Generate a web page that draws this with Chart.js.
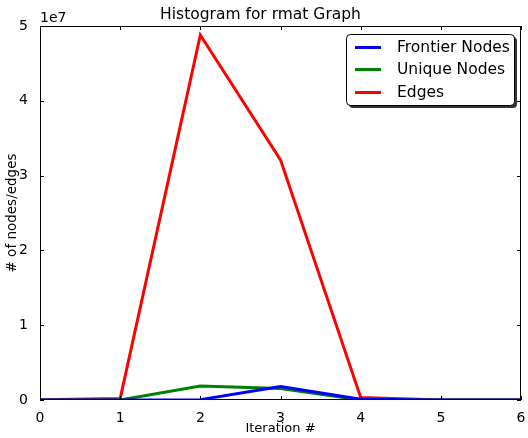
<!DOCTYPE html>
<html>
<head>
<meta charset="utf-8">
<script src="https://cdn.jsdelivr.net/npm/chart.js@4"></script>
<style>
  html, body { margin: 0; padding: 0; background: #fff; }
  #wrap { width: 528px; height: 438px; }
</style>
</head>
<body>
<div id="wrap"><canvas id="chart" width="528" height="438"></canvas></div>
<script>
'use strict';

// per-iteration counts for the rmat graph traversal
let iterations = [0, 1, 2, 3, 4, 5, 6];
let frontierNodes = [0, 0, 50000, 1800000, 100000, 0, 0];
let uniqueNodes = [0, 0, 1870000, 1550000, 0, 0, 0];
let edges = [50000, 200000, 48800000, 32100000, 350000, 0, 0];
let yTicks = [0, 1, 2, 3, 4, 5];
let yExponent = 7;

let canvasElem = document.getElementById('chart');
const FONT = 'DejaVu Sans';

function toPoints(values) {
    return iterations.map((x, i) => ({ x: x, y: values[i] }));
}

// matplotlib style: box around the plot with ticks pointing inward on all sides
const frameTicks = {
    id: 'frameTicks',
    afterDatasetsDraw(chart) {
        const { ctx, chartArea: a, scales } = chart;
        ctx.save();
        ctx.strokeStyle = '#000';
        ctx.lineWidth = 1;
        ctx.strokeRect(a.left + 0.5, a.top + 0.5, a.right - a.left - 1, a.bottom - a.top - 1);
        ctx.beginPath();
        for (const t of scales.x.ticks) {
            const px = Math.round(scales.x.getPixelForValue(t.value)) + 0.5;
            ctx.moveTo(px, a.bottom); ctx.lineTo(px, a.bottom - 4);
            ctx.moveTo(px, a.top); ctx.lineTo(px, a.top + 4);
        }
        for (const t of scales.y.ticks) {
            const py = Math.round(scales.y.getPixelForValue(t.value)) + 0.5;
            ctx.moveTo(a.left, py); ctx.lineTo(a.left + 4, py);
            ctx.moveTo(a.right, py); ctx.lineTo(a.right - 4, py);
        }
        ctx.stroke();
        // offset text for the y axis
        ctx.fillStyle = '#000';
        ctx.font = '14px "' + FONT + '"';
        ctx.textAlign = 'left';
        ctx.textBaseline = 'bottom';
        ctx.fillText('1e' + yExponent, a.left, a.top - 1);
        ctx.restore();
    }
};

// legend box in the upper right corner with a drop shadow
const boxLegend = {
    id: 'boxLegend',
    afterDraw(chart) {
        const { ctx, chartArea: a } = chart;
        const sets = chart.data.datasets;
        const w = 168, rowH = 22.5, h = 71;
        const x = a.right - w - 7, y = a.top + 8;
        ctx.save();
        ctx.fillStyle = '#333';
        roundRect(ctx, x + 3, y + 3, w, h, 4);
        ctx.fill();
        ctx.fillStyle = '#fff';
        ctx.strokeStyle = '#000';
        ctx.lineWidth = 1;
        roundRect(ctx, x + 0.5, y + 0.5, w, h, 4);
        ctx.fill();
        ctx.stroke();
        ctx.font = '15.5px "' + FONT + '"';
        ctx.textBaseline = 'middle';
        ctx.textAlign = 'left';
        sets.forEach((ds, i) => {
            const cy = Math.round(y + 12.5 + i * rowH) + 0.5;
            ctx.strokeStyle = ds.borderColor;
            ctx.lineWidth = 3;
            ctx.beginPath();
            ctx.moveTo(x + 9, cy); ctx.lineTo(x + 35, cy);
            ctx.stroke();
            ctx.fillStyle = '#000';
            ctx.fillText(ds.label, x + 51, cy);
        });
        ctx.restore();
    }
};

function roundRect(ctx, x, y, w, h, r) {
    ctx.beginPath();
    ctx.moveTo(x + r, y);
    ctx.arcTo(x + w, y, x + w, y + h, r);
    ctx.arcTo(x + w, y + h, x, y + h, r);
    ctx.arcTo(x, y + h, x, y, r);
    ctx.arcTo(x, y, x + w, y, r);
    ctx.closePath();
}

function renderChart() {
    const scale = Math.pow(10, yExponent);
    new Chart(canvasElem, {
        type: 'line',
        data: {
            datasets: [
                { label: 'Frontier Nodes', data: toPoints(frontierNodes), borderColor: '#0000ff' },
                { label: 'Unique Nodes', data: toPoints(uniqueNodes), borderColor: '#008000' },
                { label: 'Edges', data: toPoints(edges), borderColor: '#ff0000' }
            ]
        },
        options: {
            responsive: false,
            animation: false,
            layout: { padding: { left: 0, right: 7, top: 0, bottom: 0 } },
            elements: {
                line: { borderWidth: 3, tension: 0, borderCapStyle: 'round' },
                point: { radius: 0 }
            },
            plugins: {
                legend: { display: false },
                tooltip: { enabled: false },
                title: {
                    display: true,
                    text: 'Histogram for rmat Graph',
                    color: '#000',
                    font: { family: FONT, size: 15.5, weight: 'normal' },
                    padding: { top: 6, bottom: 1.4 }
                }
            },
            scales: {
                x: {
                    type: 'linear',
                    min: 0,
                    max: 6,
                    grid: { display: false },
                    border: { display: false },
                    ticks: {
                        stepSize: 1,
                        color: '#000',
                        padding: 2,
                        font: { family: FONT, size: 14 }
                    },
                    title: {
                        display: true,
                        text: 'Iteration #',
                        color: '#000',
                        padding: { top: 1, bottom: 2 },
                        font: { family: FONT, size: 13 }
                    },
                    afterFit(s) { s.height = 38; }
                },
                y: {
                    min: 0,
                    max: yTicks[yTicks.length - 1] * scale,
                    grid: { display: false },
                    border: { display: false },
                    afterBuildTicks(s) {
                        s.ticks = yTicks.map(v => ({ value: v * scale }));
                    },
                    ticks: {
                        color: '#000',
                        padding: 4,
                        font: { family: FONT, size: 14 },
                        callback: v => String(Math.round(v / scale))
                    },
                    title: {
                        display: true,
                        text: '# of nodes/edges',
                        color: '#000',
                        padding: { top: 4, bottom: 4 },
                        font: { family: FONT, size: 13.5 }
                    },
                    afterFit(s) { s.width = 40; }
                }
            }
        },
        plugins: [frameTicks, boxLegend]
    });
}

renderChart();
</script>
</body>
</html>
